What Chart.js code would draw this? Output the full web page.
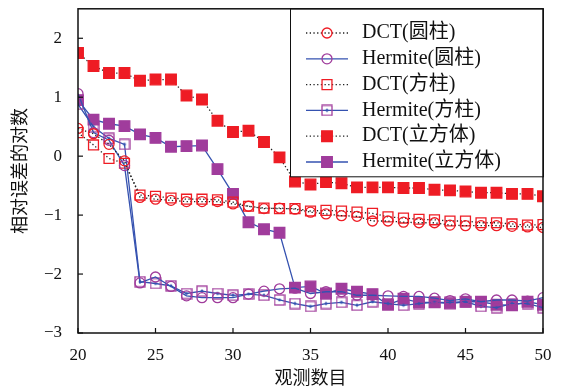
<!DOCTYPE html>
<html lang="zh">
<head>
<meta charset="UTF-8">
<title>相对误差的对数</title>
<script src="https://cdn.jsdelivr.net/npm/chart.js"></script>
<style>
    html, body { margin: 0; padding: 0; background: #fff; }
</style>
</head>
<body>
<canvas id="grafico" width="561" height="392"></canvas>
<script>
    // dados
    var observacoes = [20, 21, 22, 23, 24, 25, 26, 27, 28, 29, 30, 31, 32, 33, 34, 35, 36, 37, 38, 39, 40, 41, 42, 43, 44, 45, 46, 47, 48, 49, 50]
    var dctCilindro = [0.47, 0.38, 0.20, -0.08, -0.70, -0.73, -0.75, -0.77, -0.77, -0.77, -0.81, -0.85, -0.89, -0.88, -0.90, -0.95, -0.98, -1.01, -1.02, -1.10, -1.10, -1.12, -1.13, -1.13, -1.17, -1.18, -1.18, -1.18, -1.19, -1.20, -1.21]
    var hermiteCilindro = [1.06, 0.40, 0.27, -0.16, -2.15, -2.05, -2.21, -2.37, -2.40, -2.40, -2.40, -2.34, -2.29, -2.25, -2.24, -2.33, -2.30, -2.30, -2.36, -2.36, -2.37, -2.38, -2.38, -2.41, -2.45, -2.42, -2.47, -2.44, -2.44, -2.46, -2.40]
    var dctQuadrado = [0.40, 0.19, -0.04, -0.12, -0.66, -0.68, -0.71, -0.73, -0.73, -0.74, -0.78, -0.85, -0.88, -0.89, -0.89, -0.93, -0.92, -0.93, -0.95, -0.97, -1.03, -1.05, -1.07, -1.08, -1.10, -1.10, -1.13, -1.13, -1.15, -1.17, -1.16]
    var hermiteQuadrado = [0.88, 0.50, 0.30, 0.20, -2.13, -2.16, -2.20, -2.33, -2.29, -2.33, -2.36, -2.34, -2.36, -2.44, -2.50, -2.55, -2.50, -2.48, -2.53, -2.47, -2.50, -2.53, -2.50, -2.48, -2.48, -2.47, -2.55, -2.57, -2.50, -2.50, -2.57]
    var dctCubo = [1.75, 1.53, 1.41, 1.41, 1.28, 1.30, 1.30, 1.03, 0.96, 0.60, 0.41, 0.43, 0.24, -0.02, -0.43, -0.48, -0.44, -0.46, -0.53, -0.53, -0.53, -0.54, -0.54, -0.57, -0.58, -0.60, -0.62, -0.62, -0.64, -0.64, -0.68]
    var hermiteCubo = [0.95, 0.62, 0.55, 0.51, 0.37, 0.31, 0.16, 0.17, 0.18, -0.22, -0.64, -1.12, -1.24, -1.30, -2.23, -2.21, -2.33, -2.25, -2.30, -2.34, -2.52, -2.42, -2.48, -2.48, -2.50, -2.47, -2.47, -2.52, -2.53, -2.47, -2.52]
    var rotulos = ['DCT(圆柱)', 'Hermite(圆柱)', 'DCT(方柱)', 'Hermite(方柱)', 'DCT(立方体)', 'Hermite(立方体)']
    var xTicks = [20, 25, 30, 35, 40, 45, 50]
    var yTicks = [-3, -2, -1, 0, 1, 2]

    var vermelho = '#ee1c24'
    var roxo = '#a03c9c'
    var azul = '#3552b0'
    var pontilhado = '#222'
    var fonteSerif = '"Liberation Serif", "DejaVu Serif", "Noto Sans CJK SC", serif'

    function pares(valores) {
        return valores.map(function (v, i) { return { x: observacoes[i], y: v } })
    }

    // marcador quadrado vazado com ponto central (Hermite 方柱)
    var marcaQuadradoPonto = document.createElement('canvas')
    marcaQuadradoPonto.width = 12
    marcaQuadradoPonto.height = 12
    var mctx = marcaQuadradoPonto.getContext('2d')
    mctx.strokeStyle = roxo
    mctx.lineWidth = 1.3
    mctx.strokeRect(1, 1, 10, 10)
    mctx.fillStyle = azul
    mctx.beginPath()
    mctx.arc(6, 6, 1.4, 0, Math.PI * 2)
    mctx.fill()

    function serieDct(i, valores, estilo, cheio, raio) {
        return {
            label: rotulos[i], data: pares(valores),
            borderColor: pontilhado, borderWidth: 1.3, borderDash: [1.3, 2.4],
            pointStyle: estilo, pointRadius: raio, pointBorderWidth: 1.3,
            pointBorderColor: vermelho, pointBackgroundColor: cheio ? vermelho : 'transparent'
        }
    }
    function serieHermite(i, valores, estilo, cheio, raio) {
        return {
            label: rotulos[i], data: pares(valores),
            borderColor: azul, borderWidth: 1.3,
            pointStyle: estilo, pointRadius: raio, pointBorderWidth: 1.3,
            pointBorderColor: roxo, pointBackgroundColor: cheio ? roxo : 'transparent'
        }
    }

    var datasets = [
        serieDct(0, dctCilindro, 'circle', false, 5),
        serieHermite(1, hermiteCilindro, 'circle', false, 5),
        serieDct(2, dctQuadrado, 'rect', false, 7),
        serieHermite(3, hermiteQuadrado, marcaQuadradoPonto, false, 6),
        serieDct(4, dctCubo, 'rect', true, 7.5),
        serieHermite(5, hermiteCubo, 'rect', true, 7.5)
    ]

    var moldura = {
        id: 'moldura',
        afterDatasetsDraw: function (chart) {
            var ctx = chart.ctx
            var a = chart.chartArea
            var sx = chart.scales.x, sy = chart.scales.y
            ctx.save()
            ctx.strokeStyle = '#111'
            ctx.lineWidth = 1.2
            xTicks.forEach(function (v) {
                var px = sx.getPixelForValue(v)
                ctx.beginPath(); ctx.moveTo(px, a.bottom); ctx.lineTo(px, a.bottom - 5); ctx.stroke()
            })
            yTicks.forEach(function (v) {
                var py = sy.getPixelForValue(v)
                ctx.beginPath(); ctx.moveTo(a.left, py); ctx.lineTo(a.left + 5, py); ctx.stroke()
            })

            // legenda
            var lx = 290, ly = a.top, lw = a.right - 290, lh = 168
            ctx.fillStyle = '#fff'
            ctx.fillRect(lx, ly, lw, lh)
            ctx.lineWidth = 1
            ctx.strokeRect(lx + 0.5, ly, lw, lh)
            chart.data.datasets.forEach(function (ds, i) {
                var y = 33 + i * 25.8
                ctx.save()
                ctx.strokeStyle = ds.borderColor
                ctx.lineWidth = ds.borderWidth
                ctx.setLineDash(ds.borderDash || [])
                ctx.beginPath(); ctx.moveTo(306, y); ctx.lineTo(348, y); ctx.stroke()
                ctx.setLineDash([])
                ctx.strokeStyle = ds.pointBorderColor
                ctx.fillStyle = ds.pointBackgroundColor
                ctx.lineWidth = ds.pointBorderWidth
                Chart.helpers.drawPoint(ctx, { pointStyle: ds.pointStyle, radius: ds.pointRadius, rotation: 0, borderWidth: ds.pointBorderWidth }, 327, y)
                ctx.restore()
                ctx.fillStyle = '#111'
                ctx.font = '20px ' + fonteSerif
                ctx.textBaseline = 'middle'
                ctx.textAlign = 'left'
                ctx.fillText(ds.label, 362, y)
            })

            ctx.strokeStyle = '#111'
            ctx.lineWidth = 1.5
            ctx.strokeRect(a.left, a.top, a.right - a.left, a.bottom - a.top)
            ctx.restore()
        }
    }

    new Chart(document.getElementById('grafico'), {
        type: 'line',
        data: { datasets: datasets },
        options: {
            responsive: false,
            devicePixelRatio: 1,
            animation: false,
            layout: { padding: { left: 0, right: 18, top: 8.5, bottom: 0 } },
            plugins: { legend: { display: false }, tooltip: { enabled: false } },
            scales: {
                x: {
                    type: 'linear', min: 20, max: 50,
                    grid: { display: false }, border: { display: false },
                    afterBuildTicks: function (s) { s.ticks = xTicks.map(function (v) { return { value: v } }) },
                    afterFit: function (s) { s.height = 59; s.paddingLeft = 0; s.paddingRight = 0 },
                    ticks: { color: '#111', padding: 4, font: { family: fonteSerif, size: 17 } },
                    title: { display: true, text: '观测数目', color: '#111', padding: { top: 0, bottom: 2 }, font: { family: fonteSerif, size: 18 } }
                },
                y: {
                    min: -3, max: 2.5,
                    grid: { display: false }, border: { display: false },
                    afterBuildTicks: function (s) { s.ticks = yTicks.map(function (v) { return { value: v } }) },
                    afterFit: function (s) { s.width = 78; s.paddingTop = 0; s.paddingBottom = 0 },
                    ticks: {
                        color: '#111', padding: 8, font: { family: fonteSerif, size: 17 },
                        callback: function (v) { return v < 0 ? '\u2212' + Math.abs(v) : String(v) }
                    },
                    title: { display: true, text: '相对误差的对数', color: '#111', padding: { top: 10, bottom: 0 }, font: { family: fonteSerif, size: 18 } }
                }
            }
        },
        plugins: [moldura]
    })
</script>
</body>
</html>
